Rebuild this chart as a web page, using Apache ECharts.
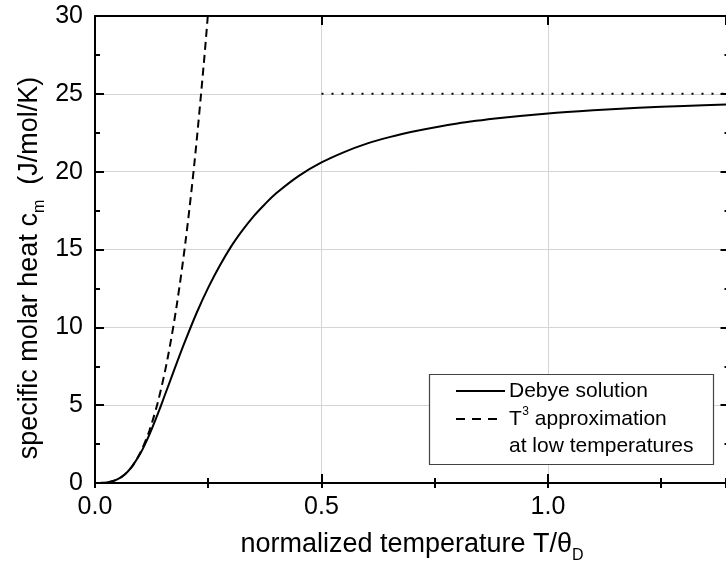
<!DOCTYPE html>
<html>
<head>
<meta charset="utf-8">
<script src="https://cdn.jsdelivr.net/npm/echarts@6/dist/echarts.min.js"></script>
<style>
html,body{margin:0;padding:0;background:#fff;}
#chart{width:726px;height:561px;}
</style>
</head>
<body>
<div id="chart"></div>
<script>
// Debye solution (normalized temperature T/thetaD, molar heat J/mol/K)
const debyeT = [0, 0.02, 0.03, 0.04, 0.05, 0.0625, 0.0714, 0.0833, 0.1, 0.1111, 0.125, 0.1429, 0.1538, 0.1667, 0.1818, 0.2, 0.225, 0.25, 0.275, 0.3, 0.325, 0.35, 0.375, 0.4, 0.45, 0.5, 0.55, 0.6, 0.65, 0.7, 0.8, 0.9, 1.0, 1.1, 1.2, 1.3, 1.4];
const debyeC = [0, 0.016, 0.053, 0.125, 0.243, 0.476, 0.71, 1.12, 1.89, 2.53, 3.45, 4.76, 5.62, 6.62, 7.81, 9.19, 10.97, 12.55, 13.94, 15.17, 16.21, 17.13, 17.91, 18.61, 19.73, 20.59, 21.26, 21.80, 22.22, 22.57, 23.10, 23.46, 23.74, 23.94, 24.10, 24.22, 24.32];
// T^3 approximation at low temperatures
const t3T = [0, 0.02, 0.04, 0.06, 0.08, 0.1, 0.12, 0.14, 0.16, 0.18, 0.2, 0.22, 0.24, 0.249];
const t3C = [0, 0.016, 0.124, 0.42, 0.995, 1.944, 3.359, 5.334, 7.962, 11.336, 15.55, 20.70, 26.87, 30.0];
// classical limit (Dulong-Petit)
const limitT = [0.5, 1.4];
const limitC = [25, 25];
// axes
const xMin = 0, xMax = 1.393, xStep = 0.5, xMinorStep = 0.25;
const yMin = 0, yMax = 30, yStep = 5;

const FONT = '"Liberation Sans", Arial, Helvetica, sans-serif';
const zip = (a, b) => a.map((v, i) => [v, b[i]]);

function textW(str, size) {
  const c = document.createElement('canvas').getContext('2d');
  c.font = size + 'px ' + FONT;
  return c.measureText(str).width;
}

const chart = echarts.init(document.getElementById('chart'), null, {renderer: 'canvas'});

const tickStyle = {color: '#000', width: 2};
function xAxisDef(pos, step, tickLen, opts) {
  return Object.assign({
    type: 'value', position: pos, min: xMin, max: xMax, interval: step,
    axisLine: {show: true, onZero: false, lineStyle: tickStyle},
    axisTick: {show: true, inside: true, length: tickLen, lineStyle: tickStyle},
    minorTick: {show: false},
    axisLabel: {show: false},
    splitLine: {show: false}
  }, opts || {});
}
const baseY = {
  type: 'value', min: yMin, max: yMax, interval: yStep,
  axisLine: {show: true, onZero: false, lineStyle: tickStyle},
  axisTick: {show: true, inside: true, length: 9, lineStyle: tickStyle},
  minorTick: {show: true, splitNumber: 2, length: 5, lineStyle: tickStyle},
  splitLine: {show: false}, minorSplitLine: {show: false}
};

// titles
const TS = 27;
const xMain = 'normalized temperature T/θ';
const xSub = 'D';
const xMainW = textW(xMain, TS), xSubW = textW(xSub, 16);
const xCenter = 412;
const xLeft = xCenter - (xMainW + xSubW) / 2;

const yPart1 = 'specific molar heat c';
const ySub = 'm';
const yPart2 = '  (J/mol/K)';
const yW1 = textW(yPart1, TS), yWs = textW(ySub, 16), yW2 = textW(yPart2, TS);
const yCenter = 268;
const yBottom = yCenter + (yW1 + yWs + yW2) / 2;
const yX = 30;

const legText = {fontSize: 21, fontFamily: FONT, fill: '#000'};

chart.setOption({
  animation: false,
  backgroundColor: '#fff',
  grid: {left: 95, top: 16, right: 0, height: 467, containLabel: false},
  xAxis: [
    xAxisDef('bottom', xStep, 9, {
      axisLabel: {show: true, margin: 12, color: '#000', fontSize: 25, fontFamily: FONT,
        formatter: v => v.toFixed(1), showMaxLabel: false},
      splitLine: {show: true, showMaxLine: false, lineStyle: {color: '#d4d4d4', width: 1}}
    }),
    xAxisDef('bottom', xMinorStep, 5, {axisLine: {show: false}}),
    xAxisDef('top', xStep, 9),
    xAxisDef('top', xMinorStep, 5, {axisLine: {show: false}})
  ],
  yAxis: [
    Object.assign({}, baseY, {
      position: 'left',
      axisLabel: {show: true, margin: 12, color: '#000', fontSize: 25, fontFamily: FONT},
      splitLine: {show: true, lineStyle: {color: '#d4d4d4', width: 1}}
    }),
    Object.assign({}, baseY, {position: 'right', offset: 3.5, axisLabel: {show: false}})
  ],
  series: [
    {type: 'line', name: 'Debye solution', data: zip(debyeT, debyeC), smooth: 0.3,
      showSymbol: false, symbol: 'none', lineStyle: {color: '#000', width: 2}, z: 5},
    {type: 'line', name: 'T3', data: zip(t3T, t3C), smooth: 0.3,
      showSymbol: false, symbol: 'none', lineStyle: {color: '#000', width: 2, type: [8, 5]}, z: 4},
    {type: 'line', name: 'limit', data: zip(limitT, limitC),
      showSymbol: false, symbol: 'none', lineStyle: {color: '#000', width: 2, type: [2, 8]}, z: 4}
  ],
  graphic: [
    // x axis title
    {type: 'text', x: xLeft, y: 545, style: {text: xMain, fontSize: TS, fontFamily: FONT, fill: '#000', verticalAlign: 'middle', align: 'left'}},
    {type: 'text', x: xLeft + xMainW, y: 556, style: {text: xSub, fontSize: 16, fontFamily: FONT, fill: '#000', verticalAlign: 'middle', align: 'left'}},
    // y axis title (rotated)
    {type: 'text', x: yX, y: yBottom, rotation: Math.PI / 2, style: {text: yPart1, fontSize: TS, fontFamily: FONT, fill: '#000', verticalAlign: 'middle', align: 'left'}},
    {type: 'text', x: yX + 10, y: yBottom - yW1, rotation: Math.PI / 2, style: {text: ySub, fontSize: 16, fontFamily: FONT, fill: '#000', verticalAlign: 'middle', align: 'left'}},
    {type: 'text', x: yX, y: yBottom - yW1 - yWs, rotation: Math.PI / 2, style: {text: yPart2, fontSize: TS, fontFamily: FONT, fill: '#000', verticalAlign: 'middle', align: 'left'}},
    // legend
    {type: 'rect', shape: {x: 429.5, y: 374.5, width: 284, height: 90}, style: {fill: '#fff', stroke: '#444', lineWidth: 1.2}, z: 10},
    {type: 'line', shape: {x1: 456, y1: 391, x2: 505, y2: 391}, style: {stroke: '#000', lineWidth: 2}, z: 11},
    {type: 'line', shape: {x1: 456, y1: 419, x2: 497, y2: 419}, style: {stroke: '#000', lineWidth: 2, lineDash: [9, 7]}, z: 11},
    {type: 'text', x: 509, y: 391, style: Object.assign({text: 'Debye solution', verticalAlign: 'middle'}, legText), z: 11},
    {type: 'text', x: 509, y: 419, style: Object.assign({text: 'T', verticalAlign: 'middle'}, legText), z: 11},
    {type: 'text', x: 509 + textW('T', 21) + 0.5, y: 412, style: {text: '3', fontSize: 12, fontFamily: FONT, fill: '#000', verticalAlign: 'middle'}, z: 11},
    {type: 'text', x: 509 + textW('T', 21) + textW('3', 12) + 0.5, y: 419, style: Object.assign({text: ' approximation', verticalAlign: 'middle'}, legText), z: 11},
    {type: 'text', x: 509, y: 446, style: Object.assign({text: 'at low temperatures', verticalAlign: 'middle'}, legText), z: 11}
  ]
});
</script>
</body>
</html>
